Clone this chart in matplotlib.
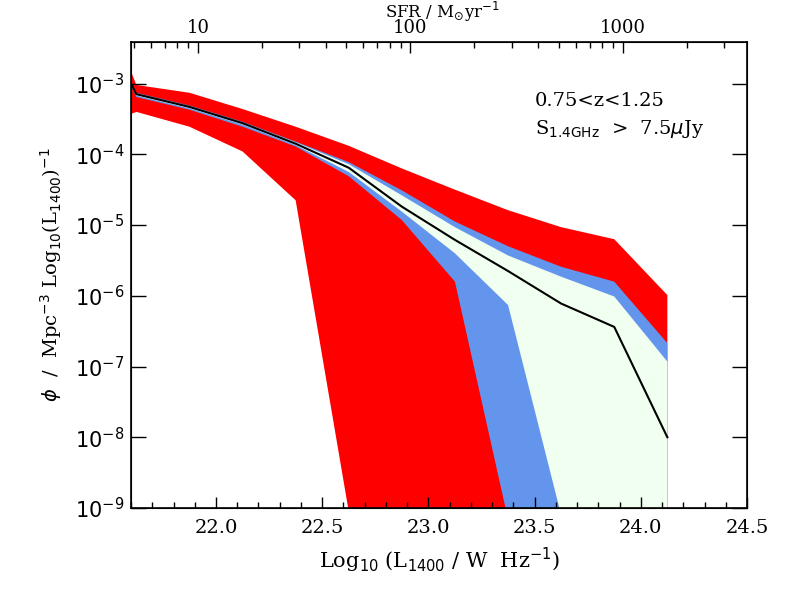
import numpy as np
import matplotlib.pyplot as plt
from matplotlib.ticker import MultipleLocator, NullLocator, NullFormatter, FuncFormatter

plt.rcParams["font.family"] = "DejaVu Serif"
plt.rcParams["mathtext.fontset"] = "dejavusans"

# bin centres, log10(L_1400 / W Hz^-1)
log_lum = np.array([21.375, 21.625, 21.875, 22.125, 22.375, 22.625,
                    22.875, 23.125, 23.375, 23.625, 23.875, 24.125])

# log10(phi)
median = np.array([-1.66, -3.15, -3.33, -3.56, -3.85, -4.19,
                   -4.74, -5.21, -5.65, -6.11, -6.44, -8.00])
red_hi = np.array([-1.10, -3.02, -3.13, -3.36, -3.61, -3.88,
                   -4.20, -4.50, -4.79, -5.03, -5.20, -5.99])
red_lo = np.array([-3.70, -3.40, -3.61, -3.96, -4.65, -9.05,
                   -10.0, -10.0, -10.0, -10.0, -10.0, -10.0])
blue_hi = np.array([-1.63, -3.13, -3.31, -3.54, -3.82, -4.11,
                    -4.51, -4.95, -5.30, -5.59, -5.80, -6.67])
blue_lo = np.array([-1.72, -3.19, -3.37, -3.61, -3.89, -4.31,
                    -4.93, -5.80, -9.16, -10.0, -10.0, -10.0])
green_hi = np.array([-1.64, -3.14, -3.32, -3.55, -3.83, -4.14,
                     -4.58, -5.03, -5.43, -5.73, -6.01, -6.93])
green_lo = np.array([-1.68, -3.17, -3.35, -3.58, -3.87, -4.25,
                     -4.81, -5.40, -6.13, -9.10, -10.0, -10.0])

sfr_offset = 20.915  # log SFR = log L - offset
x_lo, x_hi = 21.6, 24.5

fig = plt.figure(figsize=(7.86, 5.91), dpi=100)
ax = fig.add_axes([0.1667, 0.1404, 0.7837, 0.788])
ax.set_yscale("log")

ax.fill_between(log_lum, 10**red_lo, 10**red_hi, color="red", lw=0)
ax.fill_between(log_lum, 10**blue_lo, 10**blue_hi, color="cornflowerblue", lw=0)
ax.fill_between(log_lum, 10**green_lo, 10**green_hi, color="honeydew", lw=0)
ax.plot(log_lum, 10**median, color="black", lw=1.5)

ax.set_xlim(x_lo, x_hi)
ax.set_ylim(1e-9, 10**-2.417)

ax.xaxis.set_major_locator(MultipleLocator(0.5))
ax.xaxis.set_minor_locator(MultipleLocator(0.1))
ax.xaxis.set_major_formatter(FuncFormatter(lambda v, p: "%.1f" % v))
ax.yaxis.set_minor_locator(NullLocator())
ax.yaxis.set_major_formatter(FuncFormatter(lambda v, p: r"$10^{%d}$" % round(np.log10(v))))

ax.tick_params(axis="x", which="major", direction="in", length=8, width=1,
               top=False, labelsize=14, pad=8)
ax.tick_params(axis="x", which="minor", direction="in", length=4.5, width=1, top=False)
ax.tick_params(axis="y", which="major", direction="in", length=11, width=1,
               right=True, labelsize=15, pad=5)
for s in ax.spines.values():
    s.set_linewidth(1.2)

ax.set_xlabel(r"Log$_{10}$ (L$_{1400}$ / W  Hz$^{-1}$)", fontsize=15, labelpad=6)
ax.set_ylabel(r"$\phi$  /  Mpc$^{-3}$ Log$_{10}$(L$_{1400}$)$^{-1}$", fontsize=14, labelpad=8)

ax2 = ax.twiny()
ax2.set_xscale("log")
ax2.set_xlim(10**(x_lo - sfr_offset), 10**(x_hi - sfr_offset))
ax2.xaxis.set_major_formatter(FuncFormatter(lambda v, p: "%g" % v))
ax2.xaxis.set_minor_formatter(NullFormatter())
ax2.tick_params(which="major", direction="in", length=8, width=1, labelsize=13, pad=4)
ax2.tick_params(which="minor", direction="in", length=4, width=1)
ax2.set_xlabel(r"SFR / M$_{\odot}$yr$^{-1}$", fontsize=12, va="baseline")
ax2.xaxis.set_label_coords(0.505, 1.053)

ax.text(0.656, 0.863, "0.75<z<1.25", transform=ax.transAxes, fontsize=14, va="baseline")
ax.text(0.656, 0.803, r"S$_{\rm 1.4GHz}$  >  7.5$\mu$Jy", transform=ax.transAxes,
        fontsize=14, va="baseline")

plt.savefig("out.png", dpi=100)
